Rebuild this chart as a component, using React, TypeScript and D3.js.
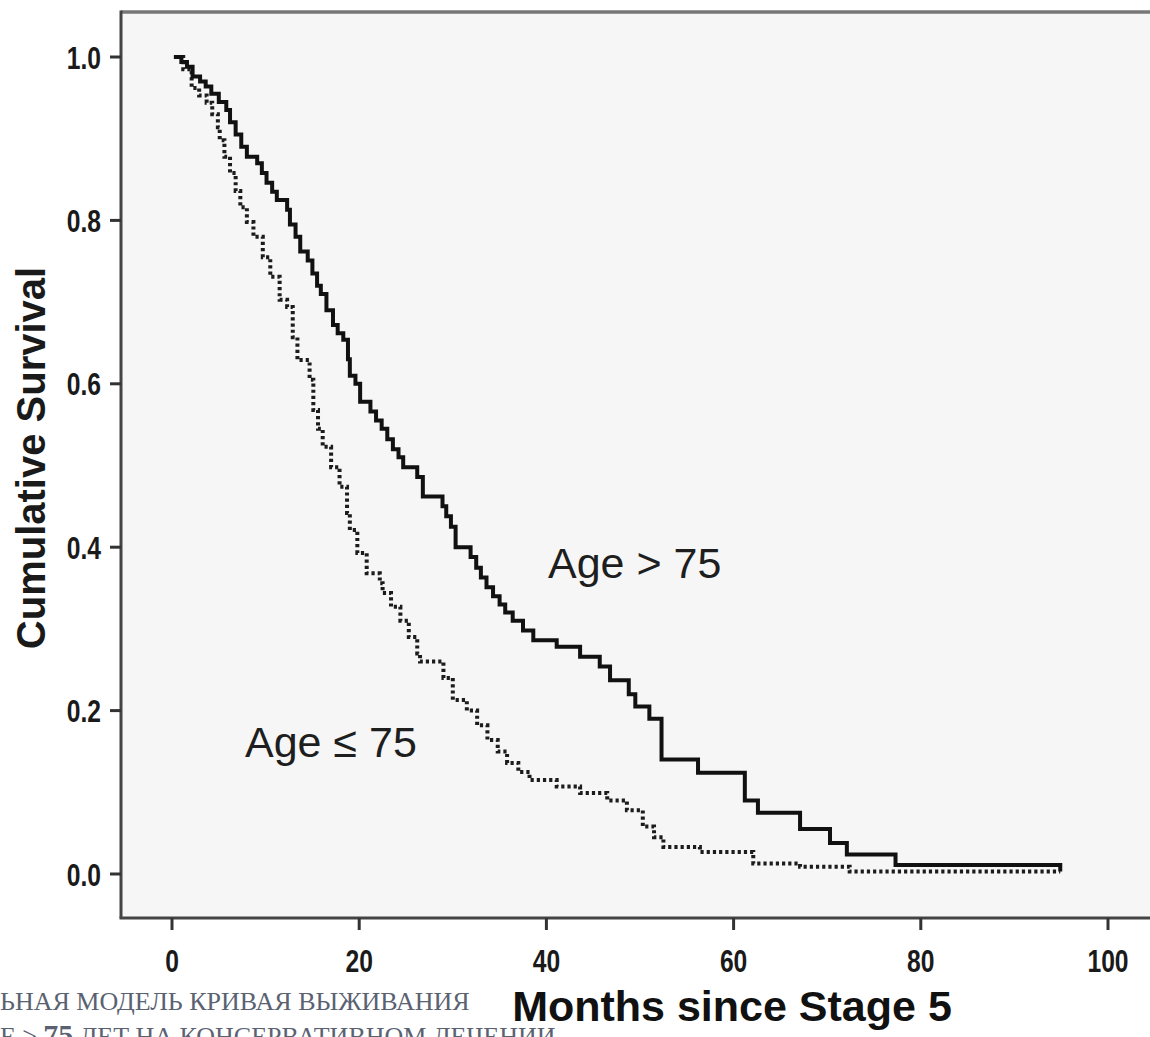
import React from 'react';
import * as d3 from 'd3';

// Kaplan-Meier estimates: [months, cumulative survival]
const olderGroup: [number, number][] = [
  [0.2, 1.0], [1.0, 0.994], [1.6, 0.988], [2.2, 0.976], [3.0, 0.97], [3.6, 0.964],
  [4.2, 0.955], [5.0, 0.945], [5.8, 0.935], [6.2, 0.92], [6.8, 0.905], [7.4, 0.89],
  [8.0, 0.878], [9.1, 0.87], [9.6, 0.858], [10.1, 0.846], [10.7, 0.835], [11.2, 0.825],
  [12.3, 0.813], [12.6, 0.795], [13.2, 0.78], [13.7, 0.762], [14.5, 0.751], [15.0, 0.735],
  [15.5, 0.72], [15.9, 0.71], [16.5, 0.69], [17.2, 0.672], [17.7, 0.662], [18.3, 0.654],
  [18.8, 0.63], [19.0, 0.61], [19.6, 0.6], [20.1, 0.578], [21.2, 0.566], [21.8, 0.555],
  [22.4, 0.545], [23.0, 0.532], [23.6, 0.52], [24.2, 0.51], [24.7, 0.498], [26.2, 0.486],
  [26.8, 0.462], [28.9, 0.45], [29.3, 0.438], [29.8, 0.425], [30.3, 0.4], [31.9, 0.388],
  [32.5, 0.375], [33.0, 0.363], [33.6, 0.351], [34.3, 0.34], [35.0, 0.33], [35.6, 0.32],
  [36.4, 0.31], [37.5, 0.298], [38.6, 0.286], [41.1, 0.278], [43.6, 0.266], [45.7, 0.254],
  [46.8, 0.237], [48.8, 0.22], [49.5, 0.205], [51.0, 0.19], [52.3, 0.14], [56.2, 0.124],
  [61.2, 0.09], [62.6, 0.075], [67.1, 0.055], [70.3, 0.038], [72.1, 0.024], [77.3, 0.011],
  [94.9, 0.003],
];

const youngerGroup: [number, number][] = [
  [0.3, 1.0], [1.2, 0.985], [2.1, 0.962], [2.9, 0.953], [3.7, 0.944], [4.3, 0.93],
  [4.9, 0.914], [5.1, 0.898], [5.6, 0.878], [6.2, 0.858], [6.8, 0.836], [7.3, 0.816],
  [8.0, 0.798], [8.7, 0.78], [9.7, 0.755], [10.5, 0.731], [11.5, 0.703], [12.3, 0.694],
  [12.9, 0.657], [13.4, 0.629], [14.7, 0.605], [15.1, 0.568], [15.6, 0.545], [16.1, 0.523],
  [17.0, 0.498], [17.9, 0.474], [18.7, 0.442], [19.0, 0.421], [19.8, 0.393], [20.8, 0.368],
  [22.2, 0.356], [22.5, 0.344], [23.4, 0.327], [24.4, 0.31], [25.3, 0.29], [26.2, 0.27],
  [26.5, 0.26], [29.0, 0.24], [30.0, 0.213], [31.5, 0.2], [32.6, 0.182], [33.7, 0.164],
  [34.8, 0.15], [35.8, 0.136], [37.0, 0.125], [38.2, 0.115], [41.1, 0.107], [43.6, 0.099],
  [46.5, 0.09], [48.6, 0.078], [50.3, 0.058], [51.5, 0.045], [52.5, 0.033], [56.4, 0.027],
  [62.1, 0.013], [67.1, 0.009], [72.4, 0.003], [94.9, 0.003],
];

const xTicks = [0, 20, 40, 60, 80, 100];
const yTicks = [0, 0.2, 0.4, 0.6, 0.8, 1.0];

const W = 1150;
const H = 1037;
const frame = { left: 121, top: 12, bottom: 918 };

const sans = '"Liberation Sans", Arial, sans-serif';
const serif = '"Liberation Serif", "Times New Roman", serif';

export default function App() {
  const x = d3.scaleLinear().domain([0, 100]).range([172, 1108]);
  const y = d3.scaleLinear().domain([0, 1]).range([874, 57]);

  const line = d3
    .line<[number, number]>()
    .x(d => x(d[0]))
    .y(d => y(d[1]))
    .curve(d3.curveStepAfter);

  return (
    <svg
      width={W}
      height={H}
      style={{ position: 'absolute', left: 0, top: 0, background: '#fff' }}
    >
      {/* plot area */}
      <rect x={frame.left} y={frame.top} width={W - frame.left + 10} height={frame.bottom - frame.top} fill="#f6f6f6" />
      <line x1={frame.left} x2={W + 5} y1={frame.top} y2={frame.top} stroke="#777" strokeWidth={3.5} />
      <line x1={frame.left} x2={frame.left} y1={frame.top - 1.5} y2={frame.bottom} stroke="#444" strokeWidth={3} />
      <line x1={frame.left - 1.5} x2={W + 5} y1={frame.bottom} y2={frame.bottom} stroke="#444" strokeWidth={3} />

      {/* y axis */}
      {yTicks.map(t => (
        <g key={t}>
          <line x1={frame.left - 11} x2={frame.left} y1={y(t)} y2={y(t)} stroke="#333" strokeWidth={3} />
          <text
            transform={`translate(101, ${y(t)}) scale(0.77, 1)`}
            dy="0.36em"
            textAnchor="end"
            fontFamily={sans}
            fontWeight="bold"
            fontSize={32}
            fill="#1a1a1a"
          >
            {d3.format('.1f')(t)}
          </text>
        </g>
      ))}

      {/* x axis */}
      {xTicks.map(t => (
        <g key={t}>
          <line x1={x(t)} x2={x(t)} y1={frame.bottom} y2={frame.bottom + 12} stroke="#333" strokeWidth={3} />
          <text
            transform={`translate(${x(t)}, 972) scale(0.77, 1)`}
            textAnchor="middle"
            fontFamily={sans}
            fontWeight="bold"
            fontSize={32}
            fill="#1a1a1a"
          >
            {t}
          </text>
        </g>
      ))}

      {/* survival curves */}
      <path d={line(youngerGroup) ?? ''} fill="none" stroke="#1c1c1c" strokeWidth={4} strokeDasharray="3.2 3" />
      <path d={line(olderGroup) ?? ''} fill="none" stroke="#111" strokeWidth={4} strokeLinejoin="miter" />

      {/* annotations */}
      <text x={548} y={578} fontFamily={sans} fontSize={43} fill="#1e1e1e">
        Age &gt; 75
      </text>
      <text x={245} y={757} fontFamily={sans} fontSize={43} fill="#1e1e1e">
        Age ≤ 75
      </text>

      {/* axis titles */}
      <text
        transform="translate(45, 458) rotate(-90)"
        textAnchor="middle"
        fontFamily={sans}
        fontWeight="bold"
        fontSize={40}
        fill="#1a1a1a"
      >
        Cumulative Survival
      </text>
      <text x={732} y={1021} textAnchor="middle" fontFamily={sans} fontWeight="bold" fontSize={43} fill="#111">
        Months since Stage 5
      </text>

      {/* caption text from the surrounding page, cut by the crop as in the source */}
      <text x={0} y={1010} fontFamily={serif} fontSize={26} fill="#5a6272">
        ЬНАЯ МОДЕЛЬ КРИВАЯ ВЫЖИВАНИЯ
      </text>
      <text x={0} y={1045} fontFamily={serif} fontSize={26} fill="#5a6272">
        Е ≥ <tspan fontWeight="bold" fontSize={30}>75</tspan> ЛЕТ НА КОНСЕРВАТИВНОМ ЛЕЧЕНИИ
      </text>
    </svg>
  );
}
